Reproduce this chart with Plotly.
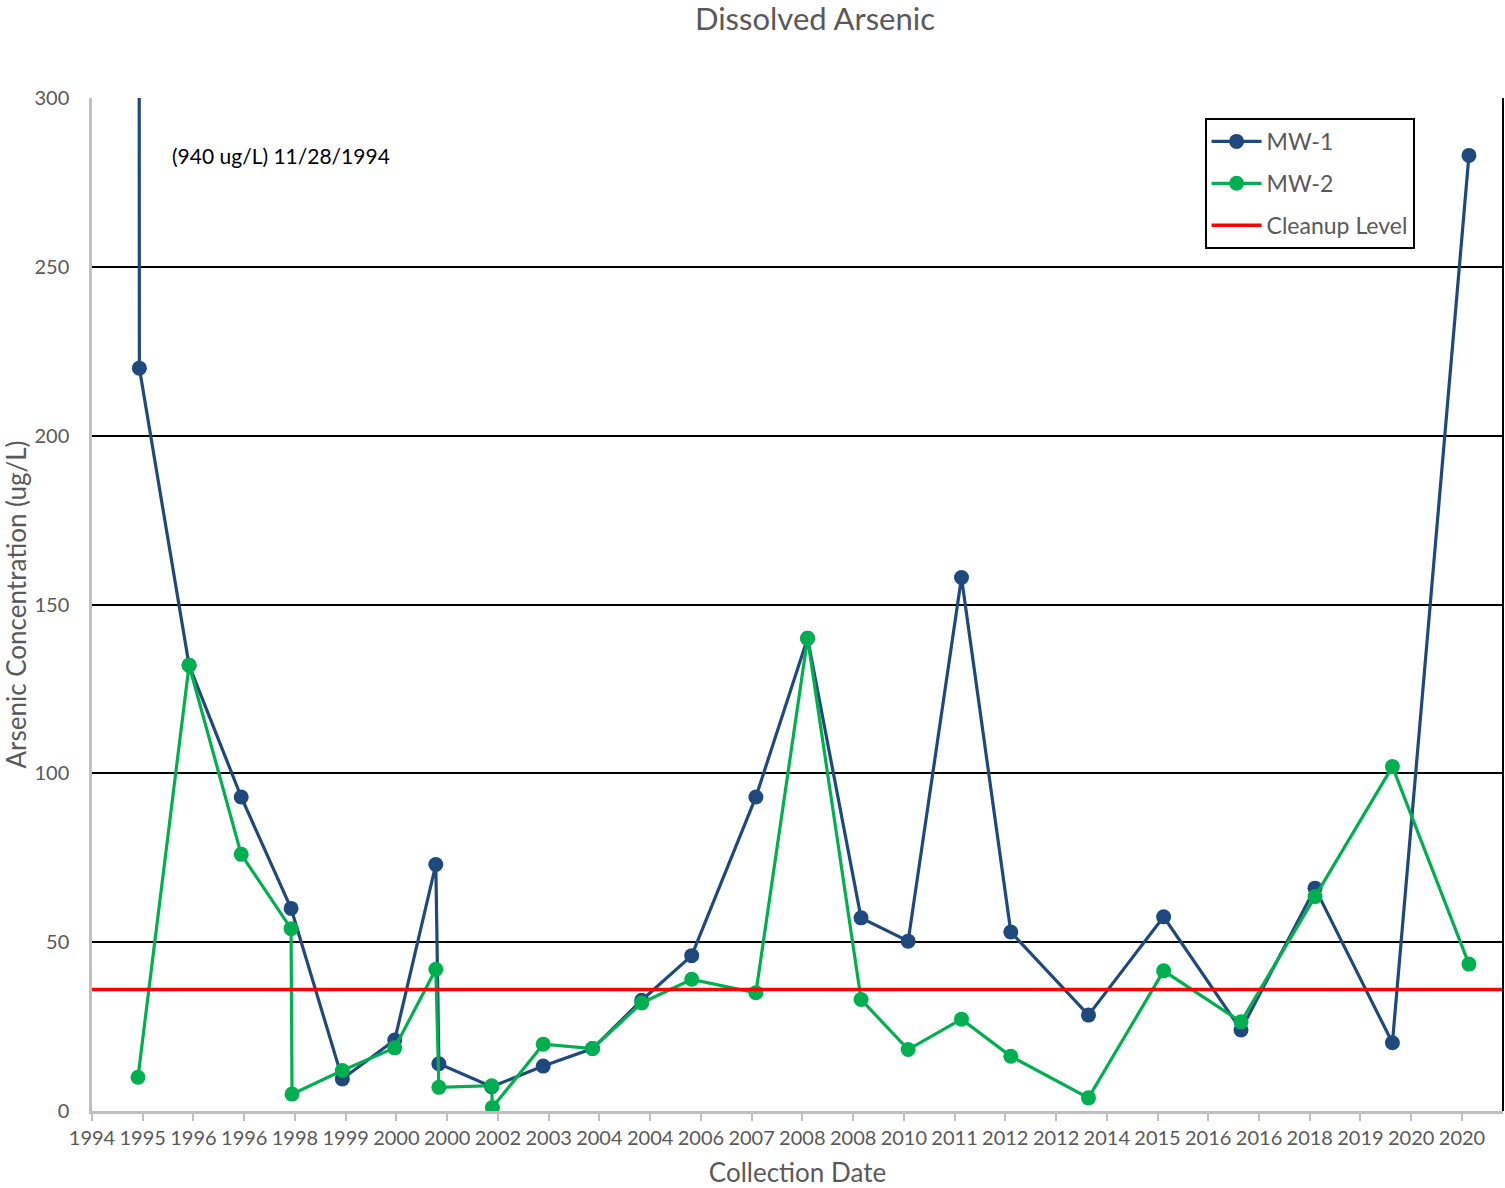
import plotly.graph_objects as go

# ---------------- data ----------------
MW1_DATES = ["1994-11-28", "1994-12-08", "1995-12-01", "1996-12-10", "1997-12-04",
             "1998-12-08", "1999-12-20", "2000-10-11", "2000-11-02", "2001-11-17",
             "2002-11-23", "2003-11-13", "2004-11-01", "2005-10-27", "2007-02-01",
             "2008-02-08", "2009-02-27", "2010-02-01", "2011-02-20", "2012-02-10",
             "2013-08-22", "2015-02-14", "2016-08-24", "2018-02-08", "2019-08-19",
             "2021-02-20"]
MW1_VALUES = [940, 220, 132, 93, 60, 9.5, 21, 73, 14, 7.2, 13.3, 18.5, 32.8, 46, 93,
              140, 57.2, 50.3, 158, 53, 28.4, 57.5, 24, 66, 20.2, 283]

MW2_DATES = ["1994-11-28", "1995-12-01", "1996-12-10", "1997-12-04", "1997-12-11",
             "1998-12-08", "1999-12-20", "2000-10-11", "2000-11-02", "2001-11-17",
             "2001-11-22", "2002-11-23", "2003-11-13", "2004-11-01", "2005-10-27",
             "2007-02-01", "2008-02-08", "2009-02-27", "2010-02-01", "2011-02-20",
             "2012-02-10", "2013-08-22", "2015-02-14", "2016-08-24", "2018-02-08",
             "2019-08-19", "2021-02-20"]
MW2_VALUES = [10, 132, 76, 54, 5, 12, 18.7, 42, 7, 7.5, 1, 19.8, 18.5, 32, 39, 35, 140,
              33, 18.2, 27.2, 16.2, 3.9, 41.5, 26.4, 63.5, 102, 43.5]

CLEANUP_LEVEL = 36
X_RANGE = ["1994-01-01", "2021-10-23"]

TICK_DATES = [f"{y}-01-01" for y in range(1994, 2022)]
TICK_LABELS = ["1994", "1995", "1996", "1996", "1998", "1999", "2000", "2000", "2002",
               "2003", "2004", "2004", "2006", "2007", "2008", "2008", "2010", "2011",
               "2012", "2012", "2014", "2015", "2016", "2016", "2018", "2019", "2020",
               "2020"]

# ---------------- style ----------------
FONT = "Lato, 'Open Sans', sans-serif"
GREY = "#595959"
BLUE = "#1F497D"
GREEN = "#00B050"
RED = "#FF0000"

fig = go.Figure()
fig.add_trace(go.Scatter(
    x=MW1_DATES, y=MW1_VALUES, name="MW-1", mode="lines+markers",
    line=dict(color=BLUE, width=3.2), marker=dict(color=BLUE, size=15),
    legendgroup="a"))
fig.add_trace(go.Scatter(
    x=MW2_DATES, y=MW2_VALUES, name="MW-2", mode="lines+markers",
    line=dict(color=GREEN, width=3.2), marker=dict(color=GREEN, size=15),
    legendgroup="b"))
fig.add_trace(go.Scatter(
    x=X_RANGE, y=[CLEANUP_LEVEL, CLEANUP_LEVEL], name="Cleanup Level", mode="lines",
    line=dict(color=RED, width=3.5), legendgroup="c"))

fig.update_layout(
    width=1505, height=1188,
    margin=dict(l=92, r=2, t=98, b=77),
    paper_bgcolor="white", plot_bgcolor="white",
    font=dict(family=FONT, color=GREY, size=20),
    title=dict(text="Dissolved Arsenic", x=0.5415, xanchor="center",
               y=1 - 19 / 1188, yanchor="middle", yref="container",
               font=dict(size=31, color=GREY, family=FONT)),
    showlegend=True,
    legend=dict(x=0.7885, y=0.9803, xanchor="left", yanchor="top",
                bgcolor="white", bordercolor="black", borderwidth=2,
                font=dict(size=23, color=GREY, family=FONT),
                tracegroupgap=9, itemwidth=50),
    xaxis=dict(
        type="date", range=X_RANGE,
        tickmode="array", tickvals=TICK_DATES, ticktext=TICK_LABELS,
        ticks="outside", ticklen=7, tickwidth=2, tickcolor="#BFBFBF",
        showline=True, linecolor="#BFBFBF", linewidth=2.5,
        showgrid=False, zeroline=False,
        tickfont=dict(size=20, color=GREY, family=FONT),
        title=dict(text="Collection Date", font=dict(size=26, color=GREY, family=FONT),
                   standoff=20),
    ),
    yaxis=dict(
        range=[0, 300], dtick=50, tick0=0,
        showline=True, linecolor="#BFBFBF", linewidth=2.5,
        showgrid=True, gridcolor="black", gridwidth=1.6,
        zeroline=False, ticks="",
        ticklabelstandoff=16,
        tickfont=dict(size=20, color=GREY, family=FONT),
        title=dict(text="Arsenic Concentration (ug/L)",
                   font=dict(size=26, color=GREY, family=FONT), standoff=6),
    ),
    annotations=[dict(
        text="(940 ug/L) 11/28/1994", xref="paper", yref="paper",
        x=(170 - 92) / 1411.5, y=(1111 - 155) / 1013, xanchor="left", yanchor="middle",
        showarrow=False, font=dict(size=21, color="black", family=FONT))],
    shapes=[dict(type="line", xref="paper", yref="paper", x0=1, x1=1, y0=0, y1=1,
                 line=dict(color="black", width=2))],
)

fig.write_html("out.html", config={"displayModeBar": False},
               post_script="document.body.style.margin='0';document.body.style.padding='0';")
